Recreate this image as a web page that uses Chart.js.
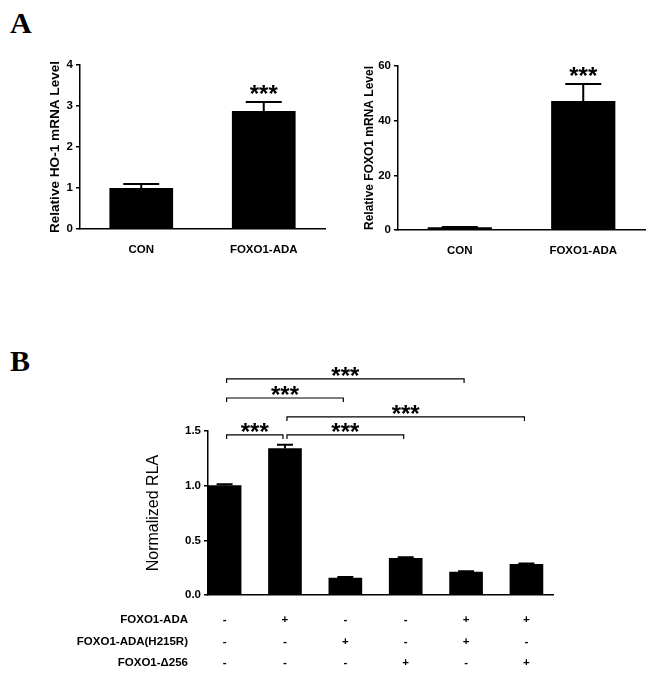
<!DOCTYPE html>
<html>
<head>
<meta charset="utf-8">
<script src="https://cdn.jsdelivr.net/npm/chart.js@4.4.0/dist/chart.umd.min.js"></script>
<style>
body{margin:0;background:#fff;}
#wrap{position:relative;width:653px;height:678px;background:#fff;overflow:hidden;}
canvas{position:absolute;}
.painel{position:absolute;font:bold 30px 'Liberation Serif','Times New Roman',serif;color:#000;line-height:30px;}
</style>
</head>
<body>
<div id="wrap">
  <div class="painel" style="left:10px;top:8px">A</div>
  <div class="painel" style="left:10px;top:346px">B</div>
  <canvas id="ho1" width="330" height="220" style="left:0;top:50px"></canvas>
  <canvas id="foxo1" width="323" height="220" style="left:330px;top:50px"></canvas>
  <canvas id="rla" width="653" height="328" style="left:0;top:350px"></canvas>
</div>
<script>
// dados do painel A
const gruposA=['CON','FOXO1-ADA'];
const ho1Media=[1.0,2.88];
const ho1Erro=[0.1,0.22];
const foxo1Media=[1.0,47.2];
const foxo1Erro=[0.1,6.2];
const signifA=['','***'];

// dados do painel B
const rlaMedia=[1.0,1.34,0.155,0.335,0.21,0.28];
const rlaErro=[0.012,0.035,0.01,0.01,0.008,0.008];
const linhasTabela=['FOXO1-ADA','FOXO1-ADA(H215R)','FOXO1-\u0394256'];
const foxoAda=['-','+','-','-','+','+'];
const foxoH215R=['-','-','+','-','+','-'];
const foxoD256=['-','-','-','+','-','+'];
const comparacoes=[[0,1],[0,2],[0,4],[1,3],[1,5]];
const niveisComparacao=[1.464,1.802,1.976,1.464,1.629];

const fonte="'Liberation Sans', Arial, sans-serif";
const preto='#000';

// barras de erro + asteriscos
const erroPlugin={
  id:'erroBarras',
  afterDatasetsDraw(chart,args,opts){
    const ctx=chart.ctx, meta=chart.getDatasetMeta(0), y=chart.scales.y;
    ctx.save(); ctx.strokeStyle=preto; ctx.lineWidth=opts.lw||2; ctx.fillStyle=preto;
    meta.data.forEach((bar,i)=>{
      const v=chart.data.datasets[0].data[i], val=typeof v==='object'?v.y:v;
      const yt=y.getPixelForValue(val+opts.erros[i]), yb=y.getPixelForValue(val);
      ctx.beginPath(); ctx.moveTo(bar.x,yb); ctx.lineTo(bar.x,yt);
      ctx.moveTo(bar.x-opts.cap,yt); ctx.lineTo(bar.x+opts.cap,yt); ctx.stroke();
      if(opts.estrelas && opts.estrelas[i]){
        ctx.font='bold 24px '+fonte; ctx.textAlign='center'; ctx.textBaseline='alphabetic';
        ctx.fillText(opts.estrelas[i],bar.x,yt-13+13);
      }
    });
    ctx.restore();
  }
};

// colchetes de comparação (painel B)
const colchetePlugin={
  id:'colchetes',
  afterDraw(chart){
    const ctx=chart.ctx, x=chart.scales.x, y=chart.scales.y;
    ctx.save(); ctx.strokeStyle=preto; ctx.fillStyle=preto; ctx.lineWidth=1.2;
    comparacoes.forEach(([a,b],k)=>{
      const x1=x.getPixelForValue(a)+2, x2=x.getPixelForValue(b)-2, yy=y.getPixelForValue(niveisComparacao[k]);
      ctx.beginPath(); ctx.moveTo(x1,yy+4); ctx.lineTo(x1,yy); ctx.lineTo(x2,yy); ctx.lineTo(x2,yy+4); ctx.stroke();
      ctx.font='bold 24px '+fonte; ctx.textAlign='center'; ctx.textBaseline='alphabetic';
      ctx.fillText('***',(x1+x2)/2,yy-8+13);
    });
    // tabela de tratamentos
    const linhas=[foxoAda,foxoH215R,foxoD256];
    ctx.font='bold 11.5px '+fonte; ctx.textBaseline='middle';
    linhas.forEach((sinais,r)=>{
      const yy=chart.chartArea.bottom+25+r*21.5;
      ctx.textAlign='right'; ctx.fillText(linhasTabela[r],188,yy);
      ctx.textAlign='center';
      sinais.forEach((s,i)=>ctx.fillText(s,x.getPixelForValue(i),yy));
    });
    ctx.restore();
  }
};

function eixoY(titulo,max,passo,larg,padTit,fonteTit,fmt){
  return {
    min:0,max:max,
    afterFit:s=>{s.width=larg;},
    ticks:{stepSize:passo,color:preto,padding:3,font:{family:fonte,weight:'bold',size:11.5},callback:fmt||(v=>v)},
    grid:{display:true,drawOnChartArea:false,drawTicks:true,tickLength:4,color:preto,lineWidth:1.5},
    border:{display:true,color:preto,width:1.5},
    title:{display:true,text:titulo,color:preto,padding:{top:padTit,bottom:0},font:Object.assign({family:fonte},fonteTit)}
  };
}

function graficoA(id,media,erro,titulo,max,passo,larg,padTit,fonteTit,pad,altX){
  return new Chart(document.getElementById(id),{
    type:'bar',
    data:{labels:gruposA,datasets:[{data:media,backgroundColor:preto,barPercentage:0.52,categoryPercentage:1}]},
    options:{
      responsive:false,animation:false,
      layout:{padding:pad},
      plugins:{legend:{display:false},tooltip:{enabled:false},erroBarras:{erros:erro,cap:18,estrelas:signifA}},
      scales:{
        x:{afterFit:s=>{s.height=altX;},ticks:{color:preto,padding:6,font:{family:fonte,weight:'bold',size:11.5}},
           grid:{display:false},border:{display:true,color:preto,width:1.5}},
        y:eixoY(titulo,max,passo,larg,padTit,fonteTit)
      }
    },
    plugins:[erroPlugin]
  });
}

graficoA('ho1',ho1Media,ho1Erro,'Relative HO-1 mRNA Level',4,1,80,47,{weight:'bold',size:13.6},{top:15,right:5,left:0,bottom:0},41);
graficoA('foxo1',foxo1Media,foxo1Erro,'Relative FOXO1 mRNA Level',60,20,68,32,{weight:'bold',size:12},{top:16,right:8,left:0,bottom:0},40);

// painel B
new Chart(document.getElementById('rla'),{
  type:'bar',
  data:{datasets:[{data:rlaMedia.map((v,i)=>({x:i,y:v})),backgroundColor:preto,barThickness:33}]},
  options:{
    responsive:false,animation:false,
    layout:{padding:{top:81,right:100,left:0,bottom:0}},
    plugins:{legend:{display:false},tooltip:{enabled:false},erroBarras:{erros:rlaErro,cap:8,lw:2}},
    scales:{
      x:{type:'linear',offset:false,min:-0.275,max:5.44,afterFit:s=>{s.height=83;},ticks:{display:false},
         grid:{display:false},border:{display:true,color:preto,width:1.5}},
      y:eixoY('Normalized RLA',1.5,0.5,208,144,{weight:'normal',size:16},v=>v.toFixed(1))
    }
  },
  plugins:[erroPlugin,colchetePlugin]
});
</script>
</body>
</html>
